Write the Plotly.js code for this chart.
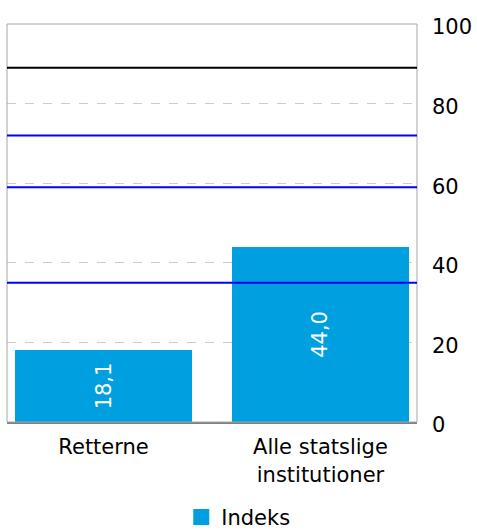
<!DOCTYPE html>
<html><head><meta charset="utf-8">
<script src="https://cdn.plot.ly/plotly-3.0.1.min.js"></script>
<style>html,body{margin:0;padding:0;background:#fff}#c{width:477px;height:530px}</style>
</head><body><div id="c"></div>
<script>
const categories = ["Retterne", "Alle statslige<br>institutioner"];
const values = [18.1, 44.0];
const seriesName = "Indeks";
const blackLines = [89];
const blueLines = [72, 59, 35];
const yTicks = [0, 20, 40, 60, 80, 100];

const barColor = "#009FE0";
const font = "DejaVu Sans, Verdana, sans-serif";

const shapes = [{type:"rect", xref:"paper", yref:"paper", x0:0, x1:1, y0:0, y1:1, line:{color:"#a6a6a6", width:1}, layer:"above"}];
blackLines.forEach(v => shapes.push({type:"line", xref:"paper", yref:"y", x0:0, x1:1, y0:v, y1:v, line:{color:"#000", width:2}, layer:"above"}));
blueLines.forEach(v => shapes.push({type:"line", xref:"paper", yref:"y", x0:0, x1:1, y0:v, y1:v, line:{color:"#0000FF", width:2}, layer:"above"}));

const traces = [
  {type:"bar", x:[0,1], y:values, width:0.816, marker:{color:barColor}, showlegend:false,
   texttemplate:"%{y:.1f}", textposition:"inside", insidetextanchor:"middle", textangle:-90,
   textfont:{color:"#fff", size:21, family:font}, hoverinfo:"none"},
  {type:"scatter", mode:"markers", x:[null], y:[null], name:seriesName, marker:{symbol:"square", size:22, color:barColor}, showlegend:true}
];

const layout = {
  width:477, height:530, margin:{l:7, r:60, t:24, b:108},
  paper_bgcolor:"#fff", plot_bgcolor:"#fff", separators:",.",
  font:{family:font, size:21, color:"#000"},
  bargap:0,
  xaxis:{range:[-0.445,1.445], tickvals:[0,1], ticktext:categories, showgrid:false, zeroline:false, automargin:false,
         showline:true, linecolor:"#7f7f7f", linewidth:2, ticks:"", tickfont:{size:21}, ticklabelstandoff:5, fixedrange:true},
  yaxis:{side:"right", range:[0,100], tickvals:yTicks, showgrid:true, gridcolor:"#cccccc", griddash:"dash", gridwidth:1,
         zeroline:false, showline:false, ticks:"", automargin:false, ticklabelstandoff:14, ticklabelshift:3,
         tickfont:{size:21}, fixedrange:true},
  shapes:shapes,
  showlegend:true,
  legend:{orientation:"h", xref:"container", yref:"container", x:0.38, xanchor:"left", y:0.024, yanchor:"middle", font:{size:21}, itemwidth:30}
};
Plotly.newPlot("c", traces, layout, {displayModeBar:false, staticPlot:true});
</script></body></html>
